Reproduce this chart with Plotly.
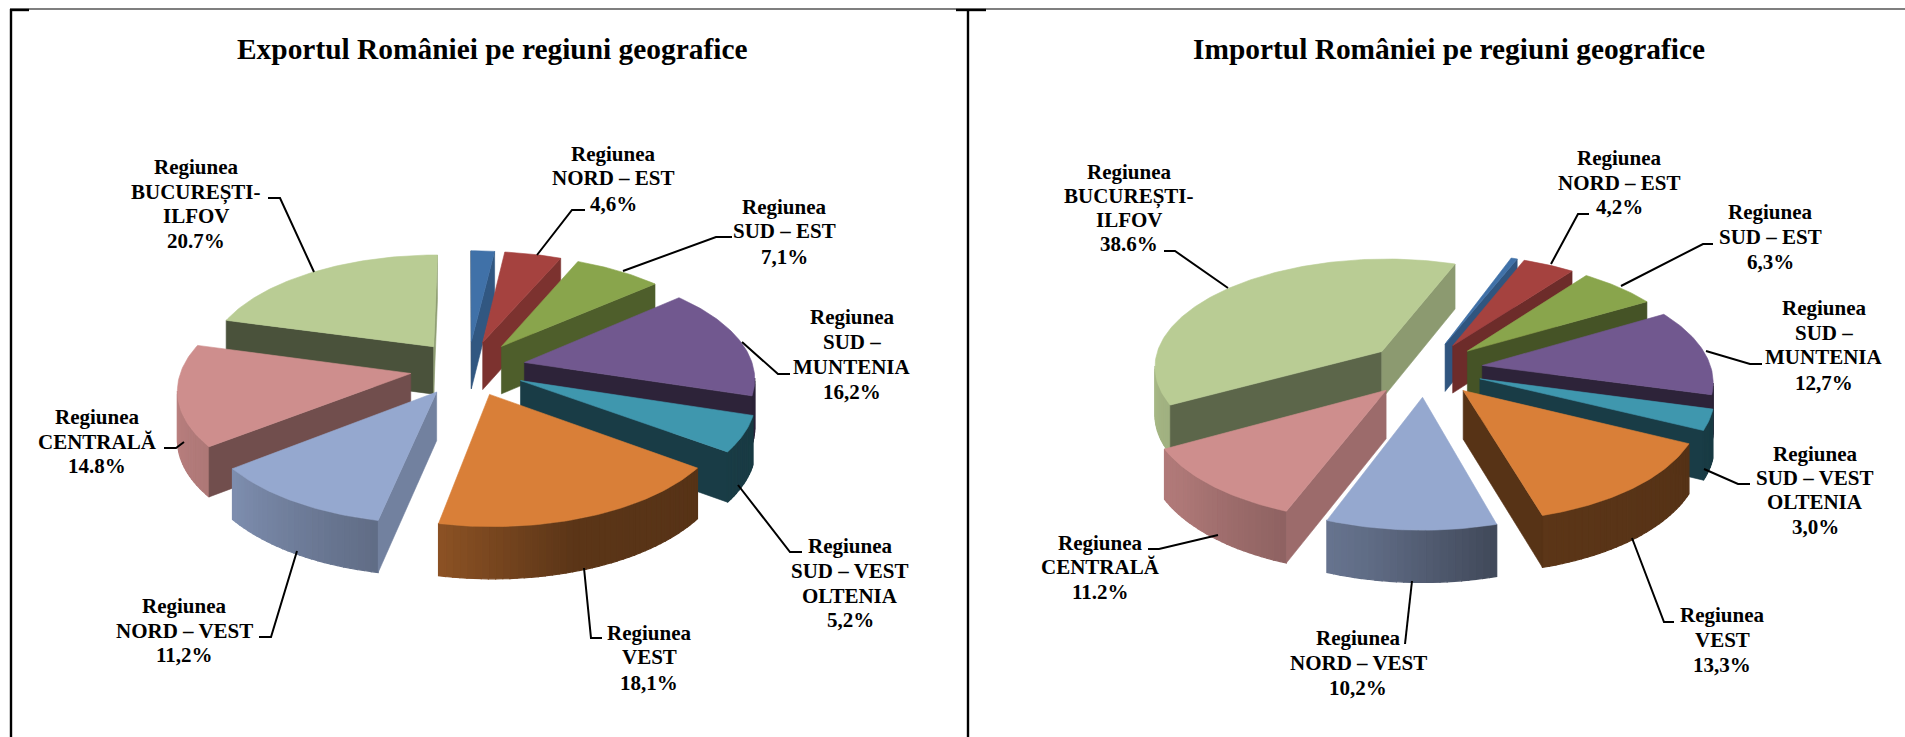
import math
import plotly.graph_objects as go

# ---------- data ----------
REGIONS = ["Alte", "NORD – EST", "SUD – EST", "SUD – MUNTENIA", "SUD – VEST OLTENIA",
           "VEST", "NORD – VEST", "CENTRALĂ", "BUCUREȘTI-ILFOV"]
EXPORT_VALUES = [1.9, 4.6, 7.1, 16.2, 5.2, 18.1, 11.2, 14.8, 20.7]
IMPORT_VALUES = [0.5, 4.2, 6.3, 12.7, 3.0, 13.3, 10.2, 11.2, 38.6]
EXPORT_TITLE = "Exportul României pe regiuni geografice"
IMPORT_TITLE = "Importul României pe regiuni geografice"

EXPORT_LABELS = [
    (["Regiunea", "NORD – EST", "4,6%"], 613, [154, 178, 204]),
    (["Regiunea", "SUD – EST", "7,1%"], 784, [207, 231, 257]),
    (["Regiunea", "SUD –", "MUNTENIA", "16,2%"], 852, [317, 342, 367, 392]),
    (["Regiunea", "SUD – VEST", "OLTENIA", "5,2%"], 850, [546, 571, 596, 620]),
    (["Regiunea", "VEST", "18,1%"], 649, [633, 657, 683]),
    (["Regiunea", "NORD – VEST", "11,2%"], 184, [606, 631, 655]),
    (["Regiunea", "CENTRALĂ", "14.8%"], 97, [417, 442, 466]),
    (["Regiunea", "BUCUREȘTI-", "ILFOV", "20.7%"], 196, [167, 192, 216, 241]),
]
IMPORT_LABELS = [
    (["Regiunea", "NORD – EST", "4,2%"], 1619, [158, 183, 207]),
    (["Regiunea", "SUD – EST", "6,3%"], 1770, [212, 237, 262]),
    (["Regiunea", "SUD –", "MUNTENIA", "12,7%"], 1824, [308, 333, 357, 383]),
    (["Regiunea", "SUD – VEST", "OLTENIA", "3,0%"], 1815, [454, 478, 502, 527]),
    (["Regiunea", "VEST", "13,3%"], 1722, [615, 640, 665]),
    (["Regiunea", "NORD – VEST", "10,2%"], 1358, [638, 663, 688]),
    (["Regiunea", "CENTRALĂ", "11.2%"], 1100, [543, 567, 592]),
    (["Regiunea", "BUCUREȘTI-", "ILFOV", "38.6%"], 1129, [172, 196, 220, 244]),
]
LEADERS = [
    [(585, 210), (572, 210), (537, 255)],
    [(732, 237), (716, 237), (623, 271)],
    [(790, 374), (778, 374), (742, 342)],
    [(802, 552), (790, 552), (738, 485)],
    [(602, 638), (591, 638), (584, 568)],
    [(259, 637), (271, 637), (297, 551)],
    [(164, 448), (176, 448), (184, 442)],
    [(268, 198), (280, 198), (314, 272)],
    [(1589, 214), (1578, 214), (1551, 264)],
    [(1713, 244), (1703, 244), (1621, 286)],
    [(1762, 364), (1750, 364), (1706, 351)],
    [(1750, 484), (1738, 484), (1704, 469)],
    [(1674, 622), (1664, 622), (1632, 538)],
    [(1405, 644), (1412, 581)],
    [(1148, 549), (1159, 549), (1218, 535)],
    [(1164, 251), (1175, 251), (1228, 288)],
]
FRAME_THIN = [[(10, 9), (1905, 9)]]
FRAME_THICK = [[(11, 9), (11, 737)], [(968, 9), (968, 737)], [(10, 10), (29, 10)], [(956, 10), (986, 10)]]

# ---------- style / geometry ----------
COLORS = ["#4071a8", "#a5423f", "#89a54c", "#71588f", "#3f97ae", "#d97f38", "#95a8cf", "#ce8e8d", "#b9cc94"]
R, EXPLODE, K, P, H = 229.0, 58.0, 0.473, 0.126, 48.0
SERIF = "Liberation Serif"
WALL_TABLE = [(0, .75), (100, .77), (115, .75), (140, .56), (150, .5), (195, .4), (255, .4), (290, .5), (360, .75)]
RIM_TABLE = [(0, .4), (100, .38), (130, .4), (163, .42), (191, .64), (231, .84), (270, .92), (295, .97), (360, .9)]


def lookup(table, a):
    a %= 360
    for (a0, f0), (a1, f1) in zip(table, table[1:]):
        if a0 <= a <= a1:
            return f0 + (f1 - f0) * (a - a0) / (a1 - a0)
    return table[-1][1]


def shade(hex_color, f):
    r, g, b = (int(hex_color[i:i + 2], 16) for i in (1, 3, 5))
    return f"rgb({r * f:.0f},{g * f:.0f},{b * f:.0f})"


def project(cx, cy, X, Y, down):
    s = 1 / (1 + P * Y / R)
    return cx + s * X, cy - s * K * Y + (H * s ** 0.5 if down else 0)


def polygon(fig, pts, color, lw=0.6):
    xs = [p[0] for p in pts] + [pts[0][0]]
    ys = [p[1] for p in pts] + [pts[0][1]]
    fig.add_trace(go.Scatter(x=xs, y=ys, mode="lines", fill="toself", fillcolor=color,
                             line=dict(color=color, width=lw), hoverinfo="skip", showlegend=False))


def area(pts):
    return sum(pts[i][0] * pts[(i + 1) % len(pts)][1] - pts[(i + 1) % len(pts)][0] * pts[i][1]
               for i in range(len(pts)))


def draw_pie(fig, values, cx, cy, rotation):
    total = sum(values)
    slices, cum = [], 0.0
    for i, v in enumerate(values):
        t0 = rotation + cum / total * 360
        t1 = rotation + (cum + v) / total * 360
        cum += v
        slices.append((i, t0, t1))

    def back_first(sl):
        return -math.cos(math.radians((sl[1] + sl[2]) / 2))

    for i, t0, t1 in sorted(slices, key=back_first):
        m = math.radians((t0 + t1) / 2)
        ox, oy = EXPLODE * math.sin(m), EXPLODE * math.cos(m)

        def pt(t, radius, down):
            a = math.radians(t)
            return project(cx, cy, ox + radius * math.sin(a), oy + radius * math.cos(a), down)

        base = COLORS[i]
        # outer curved wall, in fine strips so that it shades smoothly along the arc
        n = max(2, int((t1 - t0) / 1.5))
        for j in range(n):
            a0 = t0 + (t1 - t0) * j / n
            a1 = t0 + (t1 - t0) * (j + 1) / n
            q = [pt(a0, R, False), pt(a1, R, False), pt(a1, R, True), pt(a0, R, True)]
            if area(q) < 0:
                polygon(fig, q, shade(base, lookup(RIM_TABLE, (a0 + a1) / 2)), lw=1.2)
        # radial walls: the clockwise-side wall faces t1+90, the other t0-90
        for t, normal, sign in ((t0, t0 - 90, 1), (t1, t1 + 90, -1)):
            q = [pt(t, 0, False), pt(t, R, False), pt(t, R, True), pt(t, 0, True)]
            if area(q) * sign < 0:
                polygon(fig, q, shade(base, lookup(WALL_TABLE, normal)))
        # top surface
        n = max(4, int(t1 - t0))
        top = [pt(0, 0, False)] + [pt(t0 + (t1 - t0) * j / n, R, False) for j in range(n + 1)]
        polygon(fig, top, base)


fig = go.Figure()
draw_pie(fig, EXPORT_VALUES, 468, 368, 0)
draw_pie(fig, IMPORT_VALUES, 1425, 369, 20)

for seg in LEADERS:
    fig.add_trace(go.Scatter(x=[p[0] for p in seg], y=[p[1] for p in seg], mode="lines",
                             line=dict(color="black", width=2), hoverinfo="skip", showlegend=False))
for seg, w in [(s, 1.2) for s in FRAME_THIN] + [(s, 2.4) for s in FRAME_THICK]:
    fig.add_trace(go.Scatter(x=[p[0] for p in seg], y=[p[1] for p in seg], mode="lines",
                             line=dict(color="black", width=w), hoverinfo="skip", showlegend=False))

anns = []


def text(x, y, s, size):
    anns.append(dict(x=x, y=y, text=f"<b>{s}</b>", showarrow=False, xanchor="center", yanchor="middle",
                     font=dict(family=SERIF, size=size, color="black")))


text(492, 49, EXPORT_TITLE, 29.4)
text(1449, 49, IMPORT_TITLE, 29.4)
for lines, x, ys in EXPORT_LABELS + IMPORT_LABELS:
    for s, y in zip(lines, ys):
        text(x, y, s, 21)

fig.update_layout(
    width=1905, height=737, margin=dict(l=0, r=0, t=0, b=0),
    paper_bgcolor="white", plot_bgcolor="white", showlegend=False, annotations=anns,
    xaxis=dict(range=[0, 1905], visible=False, fixedrange=True),
    yaxis=dict(range=[737, 0], visible=False, fixedrange=True),
)
fig.write_html("out.html", config=dict(displayModeBar=False),
               post_script="document.body.style.margin='0';document.body.style.overflow='hidden';")
